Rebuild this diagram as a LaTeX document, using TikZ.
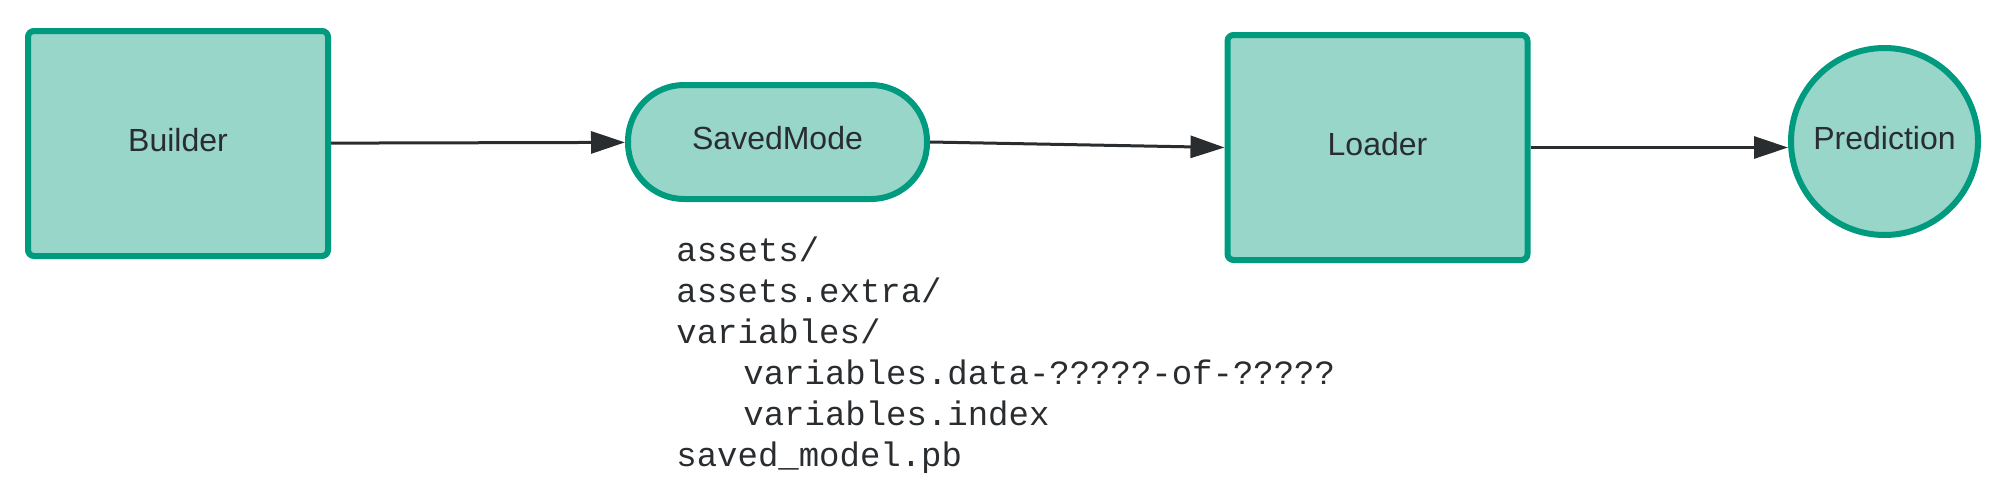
\documentclass[tikz,border=0pt]{standalone}
\usepackage{fontspec}
\setmainfont{Liberation Sans}
\setmonofont{Liberation Mono}
\usetikzlibrary{arrows.meta}

\definecolor{stagefill}{HTML}{98D6CA}
\definecolor{stageline}{HTML}{009A7E}
\definecolor{inkgray}{HTML}{2A2D30}

\tikzstyle{stage}=[draw=stageline,fill=stagefill,line width=3pt,text=inkgray,font=\fontsize{16}{19}\selectfont,text depth=4pt]
\tikzstyle{block stage} = [stage, rectangle, rounded corners=3pt, minimum width=150pt, minimum height=112.5pt]
\tikzstyle{pill stage} = [stage, rectangle, rounded corners=28pt, minimum width=149.5pt, minimum height=57pt]
\tikzstyle{end stage} = [stage, circle, minimum size=93.5pt, inner sep=0pt]
\tikzstyle{flow} = [draw,line width=1.5pt,inkgray,-{Triangle[length=17pt,width=11pt]}]
\tikzstyle{listing} = [font=\ttfamily\fontsize{17}{20.5}\selectfont, align=left, inner sep=0pt, anchor=north west, text=inkgray]

\begin{document}
\begin{tikzpicture}[x=0.5pt, y=-0.5pt]
    \useasboundingbox (0,0) rectangle (2007,493);
    % Draw the pipeline
    % First the builder and loader blocks
    \foreach \pos/\name/\txt in {{(178,143.5)/builder/Builder},{(1377.5,147.5)/loader/Loader}}
    \node[block stage] (\name) at \pos {\txt};
    % Then the saved model and the prediction
    \node[pill stage] (saved) at (777.5,142) {SavedMode};
    \node[end stage] (pred) at (1884.5,141.5) {Prediction};
    % Files written by the saved model
    \node[listing] (files) at (676,236) {assets/\\
        assets.extra/\\
        variables/\\
        \hspace*{33.5pt}variables.data-?????-of-?????\\
        \hspace*{33.5pt}variables.index\\
        saved\_model.pb};
    % Flow between the stages
    \foreach \source/ \dest in {builder/saved, saved.east/loader.west}
    \path[flow] (\source) -- (\dest);
    \path[flow] (loader.east) -- (loader.east -| pred.west);
\end{tikzpicture}
\end{document}
